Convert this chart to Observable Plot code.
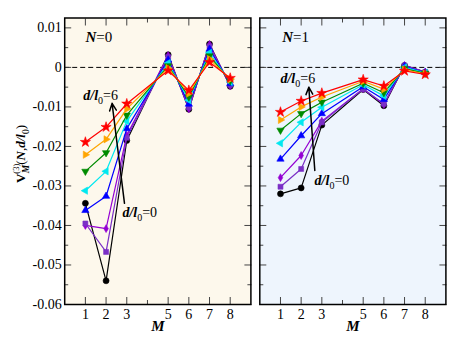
<!DOCTYPE html>
<html><head><meta charset="utf-8">
<script src="https://cdn.jsdelivr.net/npm/d3@7"></script>
<script src="https://cdn.jsdelivr.net/npm/@observablehq/plot@0.6"></script>
<style>
body{margin:0;background:#fff;}
#chart{position:relative;width:463px;height:358px;overflow:hidden;}
#chart svg{position:absolute;top:0;}
#chart svg text{font-family:'Liberation Serif','Times New Roman',serif;}
</style></head><body><div id="chart"></div>
<script>
// ---- data ----
const M = [1, 2, 3, 5, 6, 7, 8];
const seriesDL = ["0", "0.5", "1", "2", "3", "4", "5", "6"]; // d/l0 series (black ... red)
const valuesN0 = [
  [-0.0344, -0.0540, -0.0185, 0.0032, -0.0106, 0.0059, -0.0048],
  [-0.0400, -0.0408, -0.0172, 0.0030, -0.0105, 0.0058, -0.0047],
  [-0.0395, -0.0467, -0.0178, 0.0026, -0.0101, 0.0053, -0.0044],
  [-0.0362, -0.0326, -0.0155, 0.0019, -0.0093, 0.0046, -0.0041],
  [-0.0312, -0.0263, -0.0136, 0.0011, -0.0083, 0.0037, -0.0037],
  [-0.0263, -0.0216, -0.0121, 0.0004, -0.0075, 0.0029, -0.0034],
  [-0.0221, -0.0182, -0.0105, -0.0002, -0.0066, 0.0021, -0.0030],
  [-0.0189, -0.0151, -0.0092, -0.0008, -0.0058, 0.0013, -0.0027]
];
const valuesN1 = [
  [-0.0320, -0.0305, -0.0146, -0.0056, -0.0097, 0.0005, -0.0012],
  [-0.0279, -0.0223, -0.0136, -0.0054, -0.0094, 0.0005, -0.0012],
  [-0.0302, -0.0257, -0.0139, -0.0055, -0.0092, 0.0004, -0.0012],
  [-0.0232, -0.0173, -0.0117, -0.0049, -0.0081, 0.0002, -0.0013],
  [-0.0192, -0.0139, -0.0101, -0.0044, -0.0072, 0.0000, -0.0014],
  [-0.0159, -0.0117, -0.0088, -0.0040, -0.0064, -0.0003, -0.0015],
  [-0.0133, -0.0100, -0.0075, -0.0035, -0.0055, -0.0006, -0.0016],
  [-0.0113, -0.0085, -0.0065, -0.0031, -0.0047, -0.0009, -0.0018]
];
const yTicks = [0.01, 0, -0.01, -0.02, -0.03, -0.04, -0.05, -0.06];
const yMinor = [0.005, -0.005, -0.015, -0.025, -0.035, -0.045, -0.055];
const xTicks = [1, 2, 3, 5, 6, 7, 8];
const xMinor = [4];
const panelNames = ["N=0", "N=1"];
const panelNamePos = [{x: 1.0, y: 0.0077}, {x: 1.08, y: 0.0077}];
const annotTexts = ["d/l0=6", "d/l0=0"];
const annotN0 = [{x: 0.9, y: -0.0070}, {x: 2.79, y: -0.0367}];
const annotN1 = [{x: 1.0, y: -0.0029}, {x: 2.65, y: -0.0287}];
const arrowN0 = [{x1: 2.89, y1: -0.0344, x2: 2.29, y2: -0.0091}];
const arrowN1 = [{x1: 2.66, y1: -0.0261, x2: 2.37, y2: -0.0050}];

// ---- styles ----
const colors = ["#000000", "#9400d3", "#7a2fc6", "#0000ff", "#00e8f0", "#008b00", "#ffa500", "#ff0000"];
const symbols = ["circle", "diamond", "square", "triangle", "triangle", "triangle", "triangle", "star"];
const rotations = [0, 0, 0, 0, -90, 180, 90, 0];
const radii = [3, 2.4, 2.8, 2.7, 2.7, 2.7, 2.7, 3.2];
const FONT = "'Liberation Serif', 'Times New Roman', serif";

function makePanel(values, name, namePos, annot, arrow, bg, showY, width, ml, mr) {
  const rows = [];
  values.forEach((vals, i) => vals.forEach((v, j) => rows.push({s: i, M: M[j], V: v})));
  const tickStyle = {fill: "none", stroke: "#444", label: null};
  const marks = [
    Plot.frame({fill: bg, stroke: null}),
    Plot.ruleY([0], {stroke: "black", strokeDasharray: "5,3", strokeWidth: 1}),
    Plot.axisX({anchor: "bottom", ticks: xTicks, tickSize: -7, ...tickStyle}),
    Plot.axisX({anchor: "bottom", ticks: xMinor, tickSize: -4, ...tickStyle}),
    Plot.axisX({anchor: "top", ticks: xTicks, tickSize: -7, ...tickStyle}),
    Plot.axisX({anchor: "top", ticks: xMinor, tickSize: -4, ...tickStyle}),
    Plot.axisY({anchor: "left", ticks: yTicks, tickSize: -7, ...tickStyle}),
    Plot.axisY({anchor: "left", ticks: yMinor, tickSize: -4, ...tickStyle}),
    Plot.axisY({anchor: "right", ticks: yTicks, tickSize: -7, ...tickStyle}),
    Plot.axisY({anchor: "right", ticks: yMinor, tickSize: -4, ...tickStyle}),
    Plot.axisX({anchor: "bottom", ticks: xTicks, tickSize: 0, tickPadding: 5, label: null, fontSize: 14})
  ];
  if (showY) {
    marks.push(Plot.axisY({anchor: "left", ticks: yTicks, tickSize: 0, tickPadding: 3, label: null, fontSize: 14,
      tickFormat: d => String(+d.toFixed(2))}));
  }
  values.forEach((_, i) => {
    const d = rows.filter(r => r.s === i);
    marks.push(Plot.line(d, {x: "M", y: "V", stroke: colors[i], strokeWidth: 1.2}));
    marks.push(Plot.dot(d, {x: "M", y: "V", symbol: symbols[i], r: radii[i], fill: colors[i],
      stroke: colors[i], strokeWidth: 0.6, rotate: rotations[i]}));
  });
  marks.push(Plot.arrow(arrow, {x1: "x1", y1: "y1", x2: "x2", y2: "y2", stroke: "black",
    strokeWidth: 1.5, headLength: 8, headAngle: 50}));
  marks.push(Plot.text(annotTexts.map((t, i) => ({t, ...annot[i]})), {x: "x", y: "y", text: "t",
    textAnchor: "start", fontSize: 14, fill: "black"}));
  marks.push(Plot.text([{t: name, ...namePos}], {x: "x", y: "y", text: "t", textAnchor: "start", fontSize: 15, fill: "black"}));
  marks.push(Plot.text(["M"], {frameAnchor: "bottom", dy: 26, fontSize: 15, fontWeight: "bold", fontStyle: "italic", fill: "black"}));
  marks.push(Plot.frame({stroke: "black", strokeWidth: 1.5}));
  const svg = Plot.plot({
    width, height: 358, marginLeft: ml, marginRight: mr, marginTop: 17.5, marginBottom: 54,
    x: {domain: [0, 9]},
    y: {domain: [-0.06, 0.0125]},
    style: `font-family: ${FONT}; font-size: 13px; color: black; background: transparent; overflow: visible;`,
    marks
  });
  svg.setAttribute("font-family", FONT);
  // rich text: bold italic symbols and subscripts
  d3.select(svg).selectAll("text").each(function () {
    const t = this.textContent;
    let m;
    const sel = d3.select(this);
    if ((m = /^N=(\d)$/.exec(t))) {
      sel.text(null);
      sel.append("tspan").attr("font-weight", "bold").attr("font-style", "italic").text("N");
      sel.append("tspan").text("=" + m[1]);
    } else if ((m = /^d\/l0=(\d)$/.exec(t))) {
      sel.text(null);
      sel.append("tspan").attr("font-weight", "bold").attr("font-style", "italic").text("d/l");
      sel.append("tspan").attr("font-size", 10).attr("dy", 4).text("0");
      sel.append("tspan").attr("dy", -4).text("=" + m[1]);
    }
  });
  return svg;
}

const chart = document.getElementById("chart");
const left = makePanel(valuesN0, panelNames[0], panelNamePos[0], annotN0, arrowN0, "#fdf8ec", true, 252, 64.2, 1.6);
left.style.left = "0px";
chart.appendChild(left);
const right = makePanel(valuesN1, panelNames[1], panelNamePos[1], annotN1, arrowN1, "#eef5fd", false, 214, 10.3, 17.6);
right.style.left = "249px";
chart.appendChild(right);

// y-axis title
const yl = d3.select(left).append("text")
  .attr("transform", "translate(25,154) rotate(-90)")
  .attr("text-anchor", "middle").attr("font-size", 13).attr("font-family", FONT).attr("fill", "black");
yl.append("tspan").attr("font-weight", "bold").text("V");
yl.append("tspan").attr("font-size", 8.5).attr("dy", -6).text("(3)");
yl.append("tspan").attr("font-size", 9.5).attr("font-weight", "bold").attr("font-style", "italic").attr("dx", -9.5).attr("dy", 9.5).text("M");
yl.append("tspan").attr("dy", -3.5).text("(");
yl.append("tspan").attr("font-weight", "bold").attr("font-style", "italic").text("N");
yl.append("tspan").text(",");
yl.append("tspan").attr("font-weight", "bold").attr("font-style", "italic").text("d/l");
yl.append("tspan").attr("font-size", 9.5).attr("dy", 4).text("0");
yl.append("tspan").attr("dy", -4).text(")");
</script></body></html>
